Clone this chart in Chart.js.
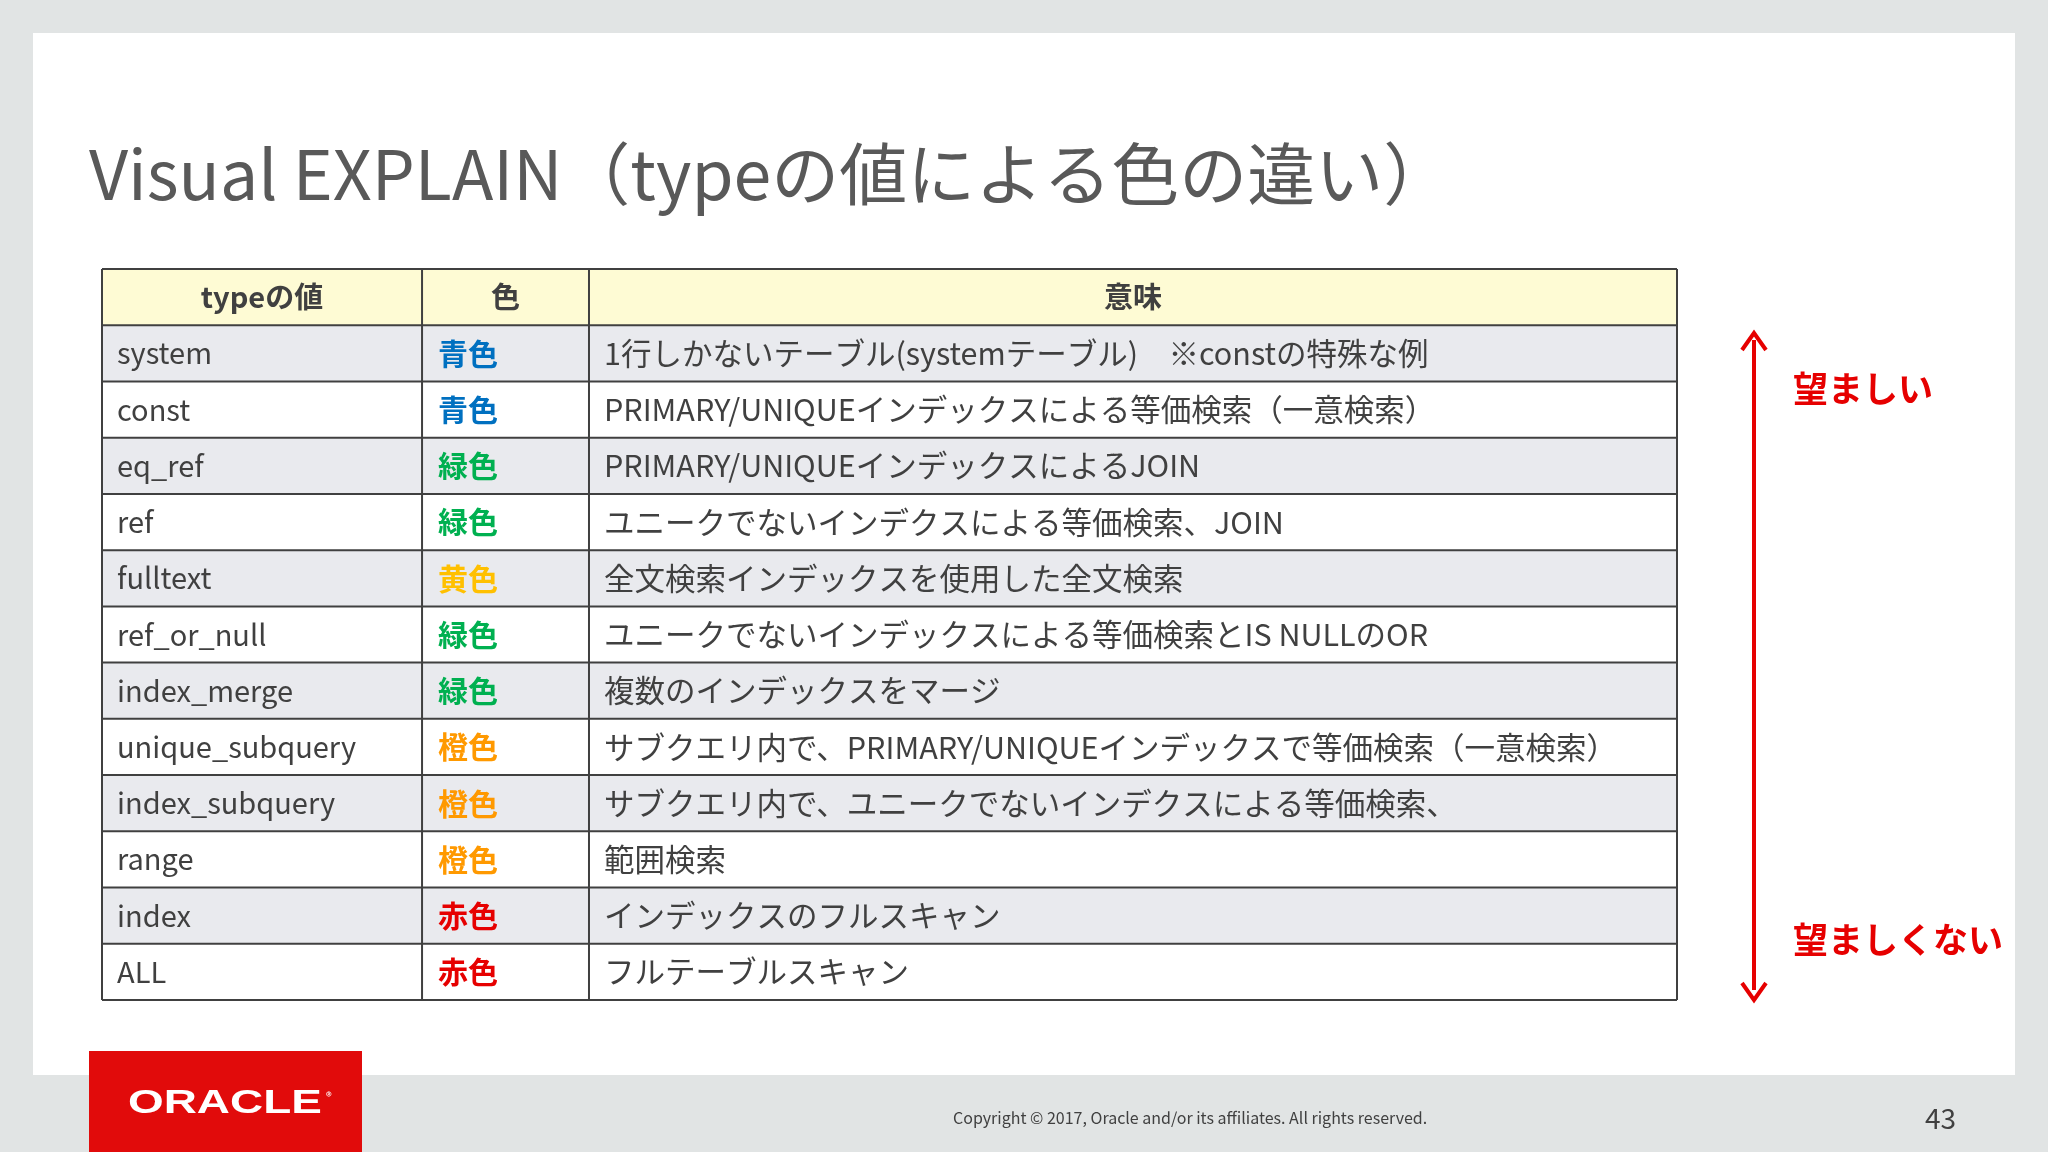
<!DOCTYPE html>
<html><head><meta charset="utf-8">
<script src="https://cdn.jsdelivr.net/npm/chart.js@4"></script>
<style>html,body{margin:0;padding:0;background:#e1e4e4}canvas{display:block}</style>
</head><body>
<div style="width:2048px;height:1152px"><canvas id="c"></canvas></div>
<script>
const headers = ['typeの値','色','意味'];
const types = ['system','const','eq_ref','ref','fulltext','ref_or_null','index_merge','unique_subquery','index_subquery','range','index','ALL'];
const colorNames = ['青色','青色','緑色','緑色','黄色','緑色','緑色','橙色','橙色','橙色','赤色','赤色'];
const meanings = ['1行しかないテーブル(systemテーブル)　※constの特殊な例','PRIMARY/UNIQUEインデックスによる等価検索（一意検索）','PRIMARY/UNIQUEインデックスによるJOIN','ユニークでないインデクスによる等価検索、JOIN','全文検索インデックスを使用した全文検索','ユニークでないインデックスによる等価検索とIS NULLのOR','複数のインデックスをマージ','サブクエリ内で、PRIMARY/UNIQUEインデックスで等価検索（一意検索）','サブクエリ内で、ユニークでないインデクスによる等価検索、','範囲検索','インデックスのフルスキャン','フルテーブルスキャン'];
const colBounds = [0, 0.2032, 0.3092, 1];
const rowLabels = ['header'].concat(types);
const colorMap = {'青色':'#0070c0','緑色':'#00b050','黄色':'#ffc000','橙色':'#ff9900','赤色':'#e60000'};
const F = '"Noto Sans CJK JP","Noto Sans",sans-serif';

const tablePlugin = {
  id:'tbl',
  beforeDraw(ch){
    const c=ch.ctx;
    c.save();
    c.fillStyle='#e1e4e4';c.fillRect(0,0,2048,1152);
    c.fillStyle='#ffffff';c.fillRect(33,33,1982,1042);
    c.fillStyle='#595959';c.font='68px '+F;c.textBaseline='alphabetic';
    c.fillText('Visual EXPLAIN（typeの値による色の違い）',89,200);
    c.fillStyle='#e10b0b';c.fillRect(89,1051,273,101);
    c.fillStyle='#fff';c.font='bold 34px "Liberation Sans",sans-serif';c.textBaseline='middle';
    c.save();c.translate(128,1104);c.scale(1.35,1);c.fillText('ORACLE',0,0);c.restore();
    c.font='12px '+F;c.fillText('®',326,1096);
    c.fillStyle='#404040';c.font='16px '+F;c.fillText('Copyright © 2017, Oracle and/or its affiliates. All rights reserved.',953,1118);
    c.font='28px '+F;c.fillText('43',1925,1118);
    c.strokeStyle='#e60000';c.fillStyle='#e60000';c.lineWidth=4;
    c.beginPath();c.moveTo(1754,340);c.lineTo(1754,990);c.stroke();
    c.beginPath();c.moveTo(1742,350);c.lineTo(1754,333);c.lineTo(1766,350);c.stroke();
    c.beginPath();c.moveTo(1742,983);c.lineTo(1754,1000);c.lineTo(1766,983);c.stroke();
    c.font='bold 35px '+F;
    c.fillText('望ましい',1793,389);
    c.fillText('望ましくない',1793,940);
    c.restore();
  },
  afterDatasetsDraw(ch){
    const c=ch.ctx, x=ch.scales.x, y=ch.scales.y;
    const n=rowLabels.length, h=(y.getPixelForValue(1)-y.getPixelForValue(0));
    const xs=colBounds.map(v=>x.getPixelForValue(v));
    c.save();
    c.strokeStyle='#404040';c.lineWidth=2;
    for(let i=0;i<=n;i++){const yy=y.getPixelForValue(0)-h/2+i*h;c.beginPath();c.moveTo(xs[0],yy);c.lineTo(xs[3],yy);c.stroke();}
    const top=y.getPixelForValue(0)-h/2, bot=top+n*h;
    xs.forEach(xx=>{c.beginPath();c.moveTo(xx,top);c.lineTo(xx,bot);c.stroke();});
    c.textBaseline='middle';
    c.fillStyle='#404040';c.font='bold 29px '+F;c.textAlign='center';
    headers.forEach((t,j)=>c.fillText(t,(xs[j]+xs[j+1])/2,y.getPixelForValue(0)));
    c.textAlign='left';
    types.forEach((t,i)=>{
      const yy=y.getPixelForValue(i+1);
      c.fillStyle='#404040';c.font='29px '+F;
      c.fillText(t,xs[0]+15,yy);
      c.font='30.5px '+F;
      c.fillText(meanings[i],xs[2]+15,yy);
      c.fillStyle=colorMap[colorNames[i]];c.font='bold 30px '+F;
      c.fillText(colorNames[i],xs[1]+16,yy);
    });
    c.restore();
  }
};

new Chart(document.getElementById('c'),{
  type:'bar',
  data:{labels:rowLabels,datasets:[{
    data:rowLabels.map(()=>[0,1]),
    backgroundColor:rowLabels.map((l,i)=>i===0?'#fefbd4':(i%2===1?'#e9eaee':'#ffffff')),
    barPercentage:1,categoryPercentage:1,borderWidth:0
  }]},
  options:{indexAxis:'y',responsive:true,maintainAspectRatio:false,animation:false,
    layout:{padding:{left:102,right:371,top:269,bottom:152}},
    plugins:{legend:{display:false},tooltip:{enabled:false}},
    scales:{x:{display:false,min:0,max:1},y:{display:false}}},
  plugins:[tablePlugin]
});
</script></body></html>
